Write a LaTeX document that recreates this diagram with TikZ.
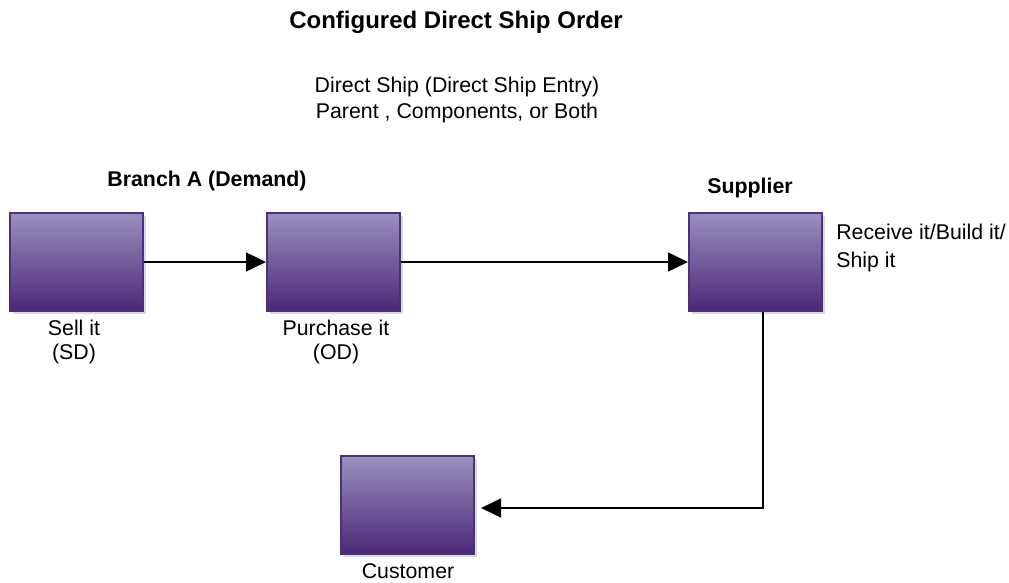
\documentclass[tikz,border=0pt]{standalone}
\usepackage{fontspec}
\setmainfont{Liberation Sans}
\usetikzlibrary{arrows.meta,shadows}
\definecolor{boxtop}{HTML}{9A90BE}
\definecolor{boxbot}{HTML}{4A2878}
\definecolor{boxedge}{HTML}{4E2E7E}
\definecolor{shade}{HTML}{DADADA}
\tikzset{
  stagebox/.style={draw=boxedge, line width=1.5pt, top color=boxtop, bottom color=boxbot,
    minimum width=133*0.75pt, minimum height=98*0.75pt, inner sep=0pt,
    drop shadow={shadow xshift=3*0.75pt, shadow yshift=-3*0.75pt, fill=shade, opacity=1}},
  label/.style={font=\fontsize{16}{19}\selectfont, align=center, inner sep=0pt},
  heading/.style={font=\fontsize{16}{19}\selectfont\bfseries, inner sep=0pt},
  flow/.style={line width=2pt, -{Triangle[length=15pt,width=14pt]}}
}
\begin{document}
\begin{tikzpicture}[x=0.75pt, y=-0.75pt]
\useasboundingbox (0,0) rectangle (1009,582);

% titles
\node[heading, font=\fontsize{18}{21}\selectfont\bfseries] (title) at (456,22) {Configured Direct Ship Order};
\node[label] (sub1) at (457,87) {Direct Ship (Direct Ship Entry)};
\node[label] (sub2) at (457,113) {Parent , Components, or Both};
\node[heading] (branch) at (207,181) {Branch A (Demand)};
\node[heading] (supp) at (750,188) {Supplier};

% process boxes
\node[stagebox] (sell) at (76.5,262) {};
\node[stagebox] (buy) at (333.5,262) {};
\node[stagebox] (ship) at (755.5,262) {};
\node[stagebox] (cust) at (407.5,505) {};

% box captions
\node[label] (sellA) at (74,328) {Sell it};
\node[label] (sellB) at (74,354) {(SD)};
\node[label] (buyA) at (336,328) {Purchase it};
\node[label] (buyB) at (336,354) {(OD)};
\node[label, anchor=west] (shipA) at (836,232) {Receive it/Build it/};
\node[label, anchor=west] (shipB) at (836,262) {Ship it};
\node[label, anchor=base] (custA) at (408,578) {Customer};

% connectors
\draw[flow] (sell.east) -- (buy.west);
\draw[flow] (buy.east) -- (ship.west);
\coordinate (turn) at (763,508);
\draw[flow, shorten >=6*0.75pt] (ship.south -| turn) -- (turn) -- (cust.east |- turn);
\end{tikzpicture}
\end{document}
